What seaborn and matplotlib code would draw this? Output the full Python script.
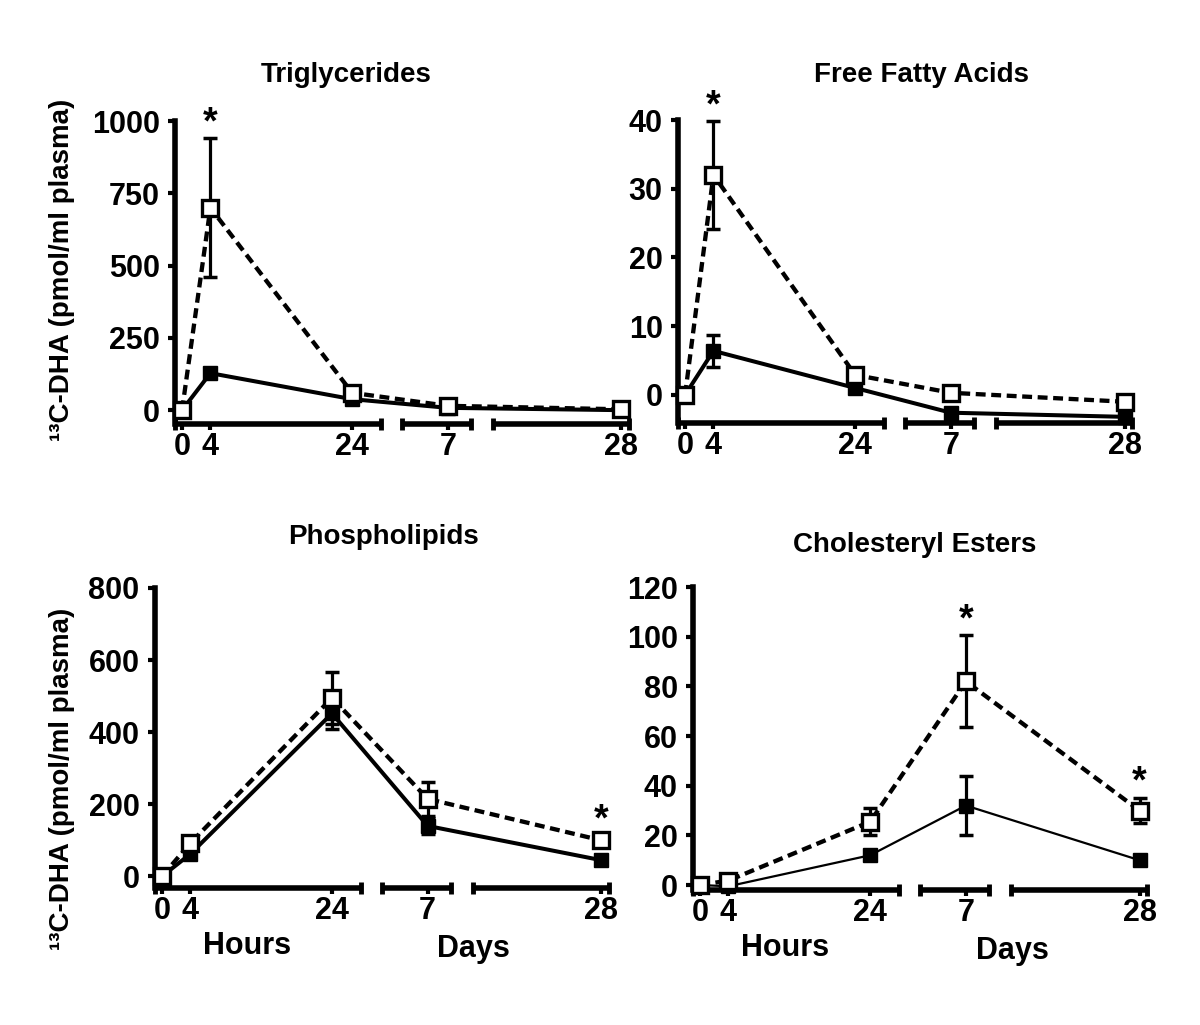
import numpy as np
import matplotlib
matplotlib.use("Agg")
import matplotlib.pyplot as plt
import seaborn as sns

# time points in hours: 0, 4, 24 h, then 7 and 28 days
hours = [0, 4, 24, 168, 672]
tick_labels = ["0", "4", "24", "7", "28"]

# Triglycerides
tg_open = [0, 700, 60, 15, 3]
tg_open_err = [0, 240, 10, 5, 3]
tg_filled = [0, 128, 38, 8, 0]
tg_filled_err = [0, 15, 8, 3, 2]

# Free fatty acids
ffa_open = [0, 32.0, 2.9, 0.3, -1.0]
ffa_open_err = [0, 7.8, 0.6, 0.4, 0.4]
ffa_filled = [0, 6.4, 1.0, -2.6, -3.2]
ffa_filled_err = [0, 2.3, 0.5, 0.4, 0.3]

# Phospholipids
pl_open = [0, 92, 495, 215, 100]
pl_open_err = [0, 10, 72, 48, 12]
pl_filled = [0, 62, 452, 140, 45]
pl_filled_err = [0, 8, 42, 22, 12]

# Cholesteryl esters
ce_open = [0, 1.8, 25.5, 82, 30]
ce_open_err = [0, 0.5, 5.5, 18.5, 5]
ce_filled = [0, -0.5, 12, 32, 10]
ce_filled_err = [0, 0.3, 1.5, 12, 1]

# broken x axis: hours -> drawn position (hours part linear, days part compressed)
hour_knots = [-1000, 0, 24, 168, 672, 2000]
pos_knots = [-1000, 0, 24, 37.5, 62, 62 + 1328 * 24.5 / 504]


def fwd(h):
    return np.interp(h, hour_knots, pos_knots)


def inv(p):
    return np.interp(p, pos_knots, hour_knots)


# pieces of the broken x axis (in hours)
axis_segments = [(-1, 68), (99, 236), (300, 695)]

sns.set_theme(style="ticks")
plt.rcParams["font.family"] = ["Liberation Sans", "DejaVu Sans"]
plt.rcParams["font.weight"] = "bold"
for key in ["text.color", "axes.labelcolor", "xtick.color", "ytick.color"]:
    plt.rcParams[key] = "black"

narrow = ["Liberation Sans Narrow", "Liberation Sans", "DejaVu Sans"]

fig = plt.figure(figsize=(12, 10.25), dpi=100)

panels = [
    dict(title="Triglycerides", tpos=(346, 75), rect=[0.1458, 0.5863, 0.381, 0.2956],
         o=tg_open, oe=tg_open_err, f=tg_filled, fe=tg_filled_err,
         yticks=[0, 250, 500, 750, 1000], ybot=-48, stars=[4], flw=2.9, bottom=False),
    dict(title="Free Fatty Acids", tpos=(921, 75), rect=[0.565, 0.5873, 0.381, 0.2956],
         o=ffa_open, oe=ffa_open_err, f=ffa_filled, fe=ffa_filled_err,
         yticks=[0, 10, 20, 30, 40], ybot=-4.1, stars=[4], flw=2.9, bottom=False),
    dict(title="Phospholipids", tpos=(384, 537), rect=[0.129, 0.1337, 0.381, 0.2927],
         o=pl_open, oe=pl_open_err, f=pl_filled, fe=pl_filled_err,
         yticks=[0, 200, 400, 600, 800], ybot=-32, stars=[672], flw=2.9, bottom=True),
    dict(title="Cholesteryl Esters", tpos=(915, 545), rect=[0.5775, 0.1317, 0.381, 0.2956],
         o=ce_open, oe=ce_open_err, f=ce_filled, fe=ce_filled_err,
         yticks=[0, 20, 40, 60, 80, 100, 120], ybot=-2, stars=[168, 672], flw=1.6, bottom=True),
]

for p in panels:
    ax = fig.add_axes(p["rect"])
    ax.set_xscale("function", functions=(fwd, inv))
    ax.set_xlim(-1, 703)
    ax.set_ylim(p["ybot"], p["yticks"][-1])

    # filled squares, solid line
    ax.errorbar(hours, p["f"], yerr=p["fe"], fmt="none", ecolor="black",
                elinewidth=2.3, capsize=5, capthick=2.5, clip_on=False, zorder=2)
    sns.lineplot(x=hours, y=p["f"], ax=ax, color="black", lw=p["flw"],
                 marker="s", markersize=10.5, markerfacecolor="black",
                 markeredgecolor="black", markeredgewidth=1,
                 errorbar=None, clip_on=False, zorder=3)

    # open squares, dashed line
    ax.errorbar(hours, p["o"], yerr=p["oe"], fmt="none", ecolor="black",
                elinewidth=2.3, capsize=5, capthick=2.5, clip_on=False, zorder=4)
    sns.lineplot(x=hours, y=p["o"], ax=ax, color="black", lw=3.1,
                 linestyle=(0, (2.3, 1.3)), marker="s", markersize=11,
                 markerfacecolor="white", markeredgecolor="black",
                 markeredgewidth=2.4, errorbar=None, clip_on=False, zorder=5)

    for h in p["stars"]:
        i = hours.index(h)
        ax.annotate("*", xy=(h, p["o"][i] + p["oe"][i]), xytext=(0, 11),
                    textcoords="offset points", ha="center", va="center",
                    fontsize=27, fontweight="bold")

    # axes styling
    for s in ["top", "right", "bottom"]:
        ax.spines[s].set_visible(False)
    ax.spines["left"].set_linewidth(4)
    ax.spines["left"].set_color("black")
    for x0, x1 in axis_segments:
        ax.plot([x0, x1], [p["ybot"], p["ybot"]], color="black", lw=4,
                solid_capstyle="butt", clip_on=False, zorder=1)
        ax.plot([x0, x1], [p["ybot"], p["ybot"]], ls="none", marker="|",
                ms=9, mew=3.5, color="black", clip_on=False, zorder=1)

    ax.set_xticks(hours)
    ax.set_xticklabels(tick_labels)
    ax.minorticks_off()
    ax.set_yticks(p["yticks"])
    ax.tick_params(axis="x", direction="out", length=4, width=3, pad=2,
                   labelsize=22, color="black")
    ax.tick_params(axis="y", direction="out", length=5, width=3, pad=6,
                   labelsize=22, color="black")
    for lab in ax.get_xticklabels() + ax.get_yticklabels():
        lab.set_fontweight("bold")
        lab.set_family(narrow)
    ax.set_xlabel("")
    ax.set_ylabel("")
    ax.grid(False)

    fig.text(p["tpos"][0] / 1200, 1 - p["tpos"][1] / 1025, p["title"],
             ha="center", va="center", fontsize=20, fontweight="bold")

    if p["bottom"]:
        ax.annotate("Hours", xy=(12, 0), xycoords=("data", "axes fraction"),
                    xytext=(0, -42), textcoords="offset points",
                    ha="center", va="center", fontsize=22, fontweight="bold",
                    family=narrow)
        ax.annotate("Days", xy=(302, 0), xycoords=("data", "axes fraction"),
                    xytext=(0, -44), textcoords="offset points",
                    ha="center", va="center", fontsize=22, fontweight="bold",
                    family=narrow)

ylabel = "\u00b9\u00b3C-DHA (pmol/ml plasma)"
fig.text(62 / 1200, 1 - 270 / 1025, ylabel, rotation=90, ha="center",
         va="center", fontsize=20, fontweight="bold")
fig.text(62 / 1200, 1 - 779 / 1025, ylabel, rotation=90, ha="center",
         va="center", fontsize=20, fontweight="bold")

fig.savefig("out.png", dpi=100, facecolor="white")
